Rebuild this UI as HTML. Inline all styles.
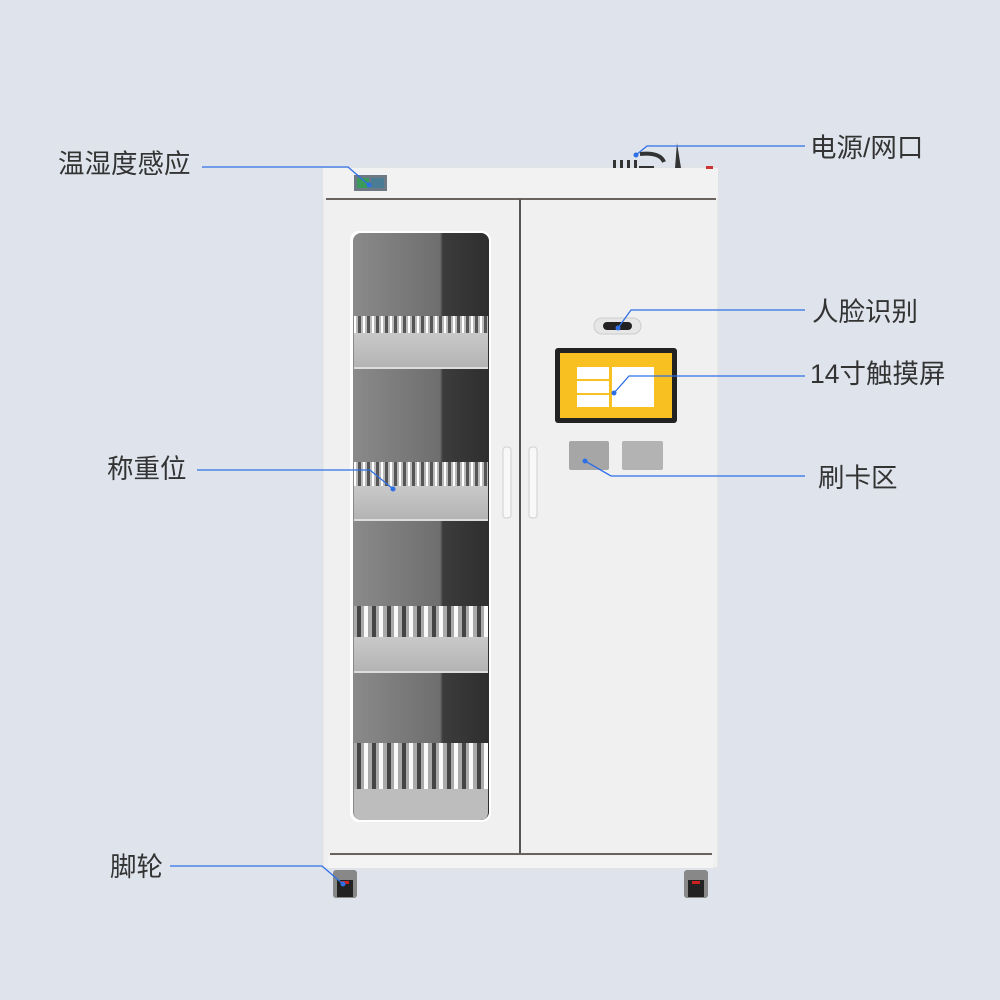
<!DOCTYPE html>
<html><head><meta charset="utf-8"><style>
body{margin:0;width:1000px;height:1000px;background:#dfe4ec;overflow:hidden}
svg{position:absolute;left:0;top:0}
text{font-family:"Liberation Sans","Noto Sans CJK SC",sans-serif;font-size:26.5px;fill:#333}
</style></head><body>
<svg width="1000" height="1000" viewBox="0 0 1000 1000">
<defs>
<linearGradient id="glass" x1="0" y1="0" x2="1" y2="0">
<stop offset="0" stop-color="#8a8a8a"/><stop offset="0.64" stop-color="#6e6e6e"/><stop offset="0.66" stop-color="#3c3c3c"/><stop offset="1" stop-color="#2e2e2e"/></linearGradient>
<pattern id="cyl" width="9" height="10" patternUnits="userSpaceOnUse">
<rect width="9" height="10" fill="#555"/><rect x="1" width="6" height="10" fill="#bbb"/><rect x="3" width="2" height="10" fill="#fff"/></pattern>
<pattern id="cyl2" width="15" height="10" patternUnits="userSpaceOnUse">
<rect width="15" height="10" fill="#444"/><rect x="1" width="11" height="10" fill="#aaa"/><rect x="4" width="4" height="10" fill="#fafafa"/></pattern>
<linearGradient id="shelf" x1="0" y1="0" x2="0" y2="1"><stop offset="0" stop-color="#c9c9c9"/><stop offset="1" stop-color="#b3b3b3"/></linearGradient>
</defs>
<rect x="323" y="168" width="395" height="700" fill="#f0f0f0" stroke="#e0e0e0"/>
<rect x="323" y="168" width="395" height="30" fill="#f2f2f2"/>
<line x1="326" y1="199" x2="716" y2="199" stroke="#6a625e" stroke-width="2"/>
<line x1="520" y1="199" x2="520" y2="855" stroke="#555" stroke-width="2"/>
<line x1="330" y1="854" x2="712" y2="854" stroke="#6a625e" stroke-width="2"/>
<rect x="328" y="856" width="385" height="12" fill="#f4f4f4"/>
<rect x="354" y="175" width="33" height="16" fill="#6d7a86"/>
<rect x="357" y="178" width="12" height="10" fill="#3c9a5a"/><rect x="371" y="178" width="13" height="10" fill="#4a7c95"/>
<g fill="#333"><rect x="613" y="160" width="3" height="8"/><rect x="620" y="160" width="3" height="8"/><rect x="627" y="160" width="3" height="8"/><rect x="634" y="160" width="3" height="8"/><rect x="639" y="166" width="15" height="2"/></g>
<path d="M640 154 Q660 152 664 162" stroke="#333" stroke-width="4" fill="none"/>
<path d="M677 143 L675 168 L681 168 Z" fill="#333"/>
<rect x="706" y="166" width="7" height="3" fill="#c33"/>
<rect x="350" y="231" width="141" height="591" rx="9" fill="#fff"/>
<rect x="353" y="233" width="136" height="587" rx="8" fill="url(#glass)"/>
<g>
<rect x="354" y="316" width="134" height="17" fill="url(#cyl)"/>
<rect x="354" y="333" width="134" height="35" fill="url(#shelf)"/><rect x="354" y="367" width="134" height="2" fill="#ddd"/>
<rect x="354" y="462" width="134" height="24" fill="url(#cyl)"/>
<rect x="354" y="486" width="134" height="34" fill="url(#shelf)"/><rect x="354" y="519" width="134" height="2" fill="#ddd"/>
<rect x="354" y="606" width="134" height="31" fill="url(#cyl2)"/>
<rect x="354" y="637" width="134" height="35" fill="url(#shelf)"/><rect x="354" y="671" width="134" height="2" fill="#ddd"/>
<rect x="354" y="743" width="134" height="46" fill="url(#cyl2)"/>
<path d="M354 789 H488 V812 Q488 820 480 820 H362 Q354 820 354 812 Z" fill="#bdbdbd"/>
</g>
<rect x="503" y="447" width="8" height="71" rx="3" fill="#f8f8f8" stroke="#cfcfcf"/>
<rect x="529" y="447" width="8" height="71" rx="3" fill="#f8f8f8" stroke="#cfcfcf"/>
<rect x="594" y="318" width="47" height="16" rx="8" fill="#e6e6e6" stroke="#ccc"/>
<rect x="603" y="322" width="29" height="8" rx="4" fill="#222"/>
<rect x="555" y="348" width="122" height="75" rx="3" fill="#222"/>
<rect x="560" y="353" width="112" height="65" fill="#f8c020"/>
<rect x="577" y="367" width="32" height="12" fill="#fff"/><rect x="577" y="381" width="32" height="12" fill="#fff"/><rect x="577" y="395" width="32" height="12" fill="#fff"/>
<rect x="612" y="367" width="42" height="40" fill="#fff"/>
<rect x="569" y="441" width="40" height="29" rx="2" fill="#a6a6a6"/>
<rect x="622" y="441" width="41" height="29" rx="2" fill="#b3b3b3"/>
<rect x="333" y="870" width="24" height="28" rx="3" fill="#888"/><rect x="337" y="880" width="16" height="17" fill="#222"/><rect x="341" y="881" width="8" height="3" fill="#c22"/>
<rect x="684" y="870" width="24" height="28" rx="3" fill="#888"/><rect x="688" y="880" width="16" height="17" fill="#222"/><rect x="692" y="881" width="8" height="3" fill="#c22"/>
<g stroke="#2f6fe6" stroke-width="1.3" fill="none">
<polyline points="202,167 348,167 369,185"/>
<polyline points="805,146 647,146 636,155"/>
<polyline points="805,310 631,310 618,328"/>
<polyline points="805,376 629,376 614,393"/>
<polyline points="805,476 611,476 585,461"/>
<polyline points="197,470 370,470 393,489"/>
<polyline points="170,866 322,866 343,884"/>
</g>
<g fill="#2f6fe6"><circle cx="369" cy="185" r="2.5"/><circle cx="636" cy="155" r="2.5"/><circle cx="618" cy="328" r="2.5"/><circle cx="614" cy="393" r="2.5"/><circle cx="585" cy="461" r="2.5"/><circle cx="393" cy="489" r="2.5"/><circle cx="343" cy="884" r="2.5"/></g>
<text x="58" y="173">温湿度感应</text>
<text x="810" y="157">电源/网口</text>
<text x="812" y="321">人脸识别</text>
<text x="810" y="383">14寸触摸屏</text>
<text x="818" y="487">刷卡区</text>
<text x="107" y="478">称重位</text>
<text x="110" y="876">脚轮</text>
</svg>
</body></html>
